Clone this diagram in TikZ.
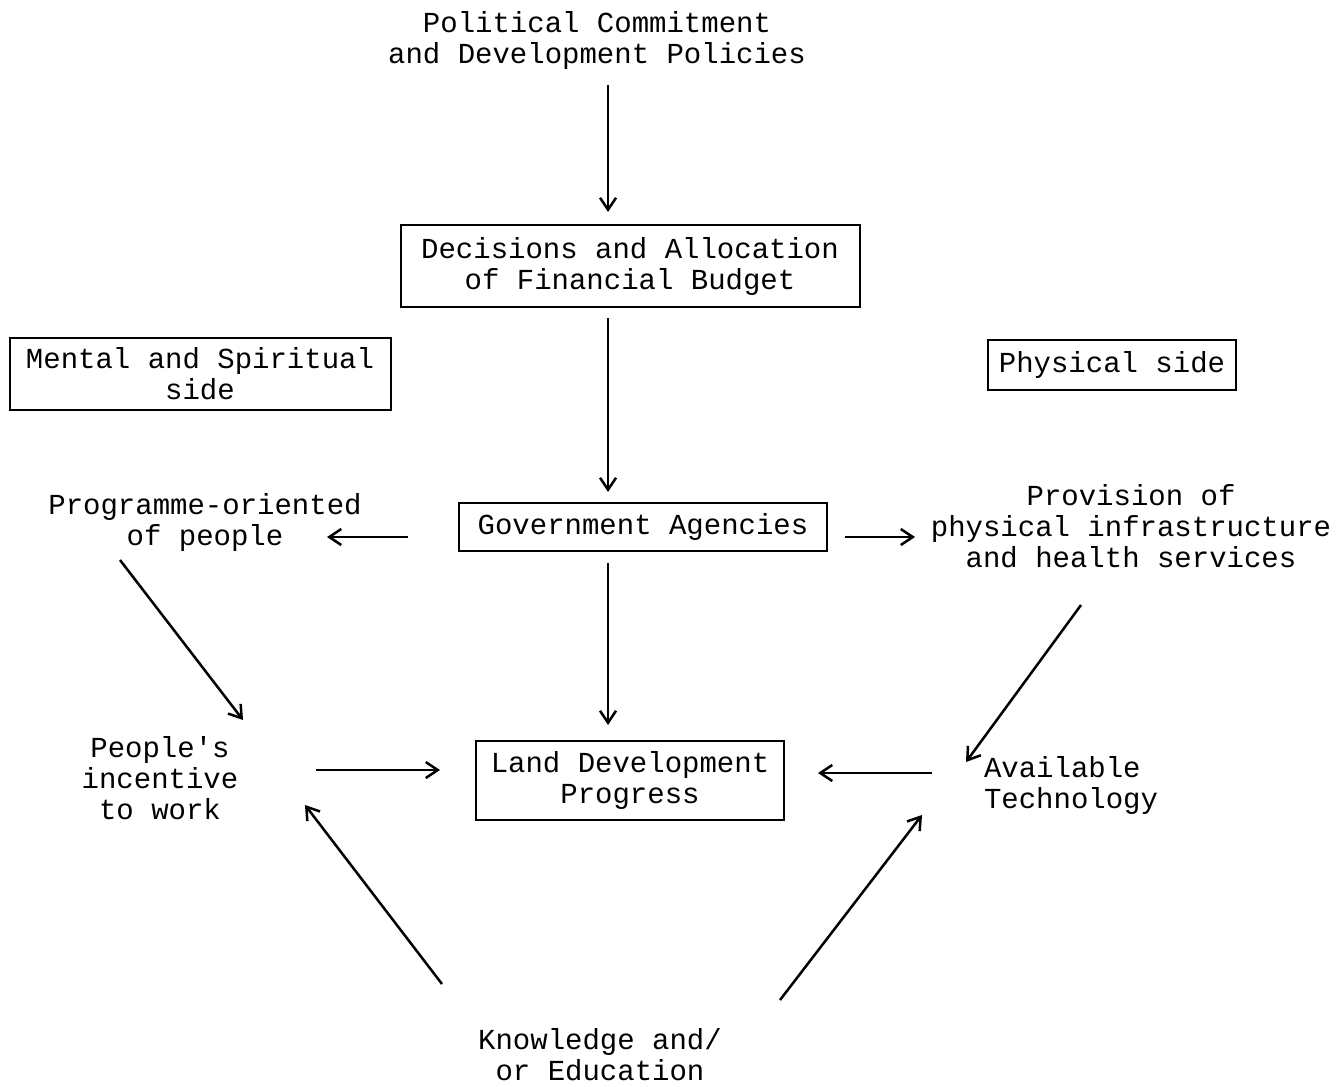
\documentclass[tikz,border=0pt]{standalone}
\usepackage{fontspec}
\setmonofont{Liberation Mono}
\usetikzlibrary{arrows.meta,calc}

\begin{document}
\begin{tikzpicture}[x=0.5pt,y=-0.5pt,
	txt/.style={font=\fontsize{14.5}{15.5}\selectfont\ttfamily, align=center, inner sep=0pt},
	box/.style={txt, draw, line width=1pt},
	arr/.style={-{Straight Barb[length=6pt,width=8pt]}, line width=1.25pt}]

		\useasboundingbox (0,0) rectangle (1342,1086);

		\node[txt] (pol) at (597,41) {Political Commitment\\and Development Policies};
		\node[box, minimum width=229.5pt, minimum height=41pt] (dec) at (630,266) {Decisions and Allocation\\of Financial Budget};
		\node[box, minimum width=190.5pt, minimum height=36pt] (mental) at (200,374) {Mental and Spiritual\\side};
		\node[box, minimum width=124pt, minimum height=25pt] (phys) at (1112,365) {Physical side};
		\node[box, minimum width=184pt, minimum height=24pt] (gov) at (643,527) {Government Agencies};
		\node[txt] (prog) at (205,522) {Programme-oriented\\of people};
		\node[txt] (prov) at (1131,526) {Provision of\\physical infrastructure\\and health services};
		\node[txt] (people) at (160,778) {People's\\incentive\\to work};
		\node[box, minimum width=154pt, minimum height=39.5pt] (land) at (630,780) {Land Development\\Progress};
		\node[txt, align=left] (avail) at (1071,785) {Available\\Technology};
		\node[txt] (know) at (600,1055) {Knowledge and/\\or Education};

		\draw[arr] ($(pol)+(11,44)$) -- ($(dec)+(-22,-54)$);
		\draw[arr] ($(dec)+(-22,52)$) -- ($(gov)+(-35,-35)$);
		\draw[arr] ($(gov)+(-35,36)$) -- ($(land)+(-22,-55)$);

		\draw[arr] ($(gov)+(-235,10)$) -- ($(prog)+(122,15)$);
		\draw[arr] ($(gov)+(202,10)$) -- ($(prov)+(-216,11)$);

		\draw[arr] ($(prog)+(-85,38)$) -- ($(people)+(83,-58)$);
		\draw[arr] ($(prov)+(-50,79)$) -- ($(avail)+(-105,-23)$);

		\draw[arr] ($(people)+(156,-8)$) -- ($(land)+(-190,-10)$);
		\draw[arr] ($(avail)+(-139,-12)$) -- ($(land)+(188,-7)$);

		\draw[arr] ($(know)+(-158,-71)$) -- ($(people)+(145,27)$);
		\draw[arr] ($(know)+(180,-55)$) -- ($(avail)+(-149,30)$);
	\end{tikzpicture}
\end{document}
